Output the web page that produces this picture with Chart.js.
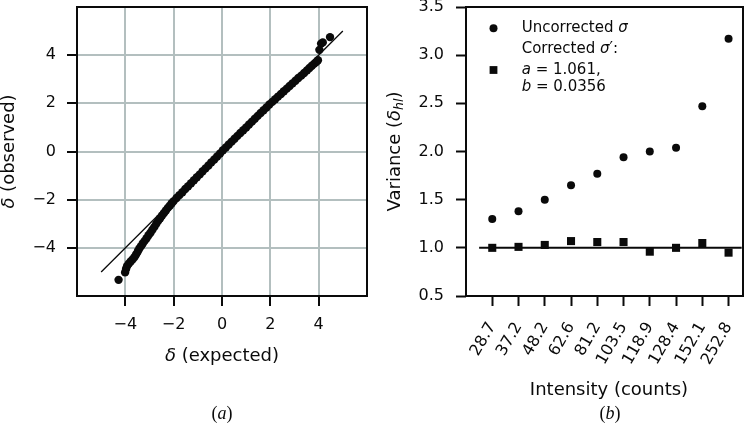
<!DOCTYPE html>
<html><head><meta charset="utf-8">
<script src="https://cdn.jsdelivr.net/npm/chart.js@4.4.1/dist/chart.umd.min.js"></script>
<style>
html,body{margin:0;padding:0;background:#fff;}
#wrap{position:relative;width:756px;height:424px;overflow:hidden;background:#fff;}
canvas{position:absolute;top:0;}
#ca{left:0;} #cb{left:380px;}
</style></head><body>
<div id="wrap"><canvas id="ca" width="380" height="424"></canvas><canvas id="cb" width="376" height="424"></canvas></div>
<script>
// ---------- data: panel (a) normal probability plot ----------
const qqExpected = [-4.28,-4.01,-3.97,-3.93,-3.86,-3.78,-3.70,-3.62,-3.55,-3.48,-3.42,-3.35,-3.28,-3.20,-3.12,-3.04,-2.96,-2.88,-2.80,-2.72,-2.64,-2.56,-2.48,-2.40,-2.32,-2.24,-2.16,-2.08,-2.00,-1.88,-1.76,-1.64,-1.52,-1.40,-1.28,-1.16,-1.04,-0.92,-0.80,-0.68,-0.56,-0.44,-0.32,-0.20,-0.08,0.04,0.16,0.28,0.40,0.52,0.64,0.76,0.88,1.00,1.12,1.24,1.36,1.48,1.60,1.72,1.84,1.96,2.08,2.20,2.32,2.44,2.56,2.68,2.80,2.92,3.04,3.16,3.28,3.40,3.52,3.62,3.72,3.82,3.90,3.97,4.03,4.10,4.17,4.47];
const qqObserved = [-5.33,-5.02,-4.88,-4.76,-4.66,-4.57,-4.48,-4.38,-4.27,-4.14,-4.03,-3.93,-3.82,-3.71,-3.60,-3.48,-3.37,-3.25,-3.13,-3.00,-2.88,-2.77,-2.66,-2.55,-2.45,-2.34,-2.25,-2.15,-2.06,-1.93,-1.81,-1.69,-1.56,-1.44,-1.32,-1.19,-1.07,-0.95,-0.82,-0.70,-0.58,-0.45,-0.33,-0.21,-0.08,0.05,0.17,0.29,0.41,0.53,0.65,0.77,0.88,1.00,1.12,1.24,1.36,1.48,1.60,1.71,1.83,1.95,2.06,2.17,2.28,2.39,2.50,2.61,2.72,2.83,2.94,3.05,3.15,3.26,3.37,3.47,3.56,3.65,3.72,3.79,4.22,4.48,4.53,4.75];
const idealLineX = [-5, 5];
const idealLineY = [-5, 5];
const qqTicks = [-4, -2, 0, 2, 4];
const qqRange = [-6, 6];

// ---------- data: panel (b) variance per intensity bin ----------
const intensityLabels = ['28.7','37.2','48.2','62.6','81.2','103.5','118.9','128.4','152.1','252.8'];
const uncorrectedVar = [1.30,1.38,1.50,1.65,1.77,1.94,2.00,2.04,2.47,3.17];
const correctedVar   = [1.00,1.01,1.03,1.07,1.06,1.06,0.96,1.00,1.05,0.95];
const unityLineX = [-0.5, 9.5];
const unityLineY = [1.0, 1.0];
const varTicks = [0.5,1.0,1.5,2.0,2.5,3.0,3.5];

const INK = '#0a0a0a';
const GRID = '#b3bfbf';
const FAM = '"DejaVu Sans"';
const fnt = (sz, st) => (st ? st + ' ' : '') + sz + 'px ' + FAM;
const TICK = 16, TITLE = 18, LEG = 15;

function drawRuns(ctx, parts, cx, cy, rot, align) {
  ctx.save();
  ctx.translate(cx, cy);
  ctx.rotate(rot || 0);
  let w = 0;
  parts.forEach(p => { ctx.font = p.f; p.w = ctx.measureText(p.t).width; w += p.w; });
  let x = align === 'left' ? 0 : -w / 2;
  ctx.textBaseline = 'middle';
  ctx.textAlign = 'left';
  ctx.fillStyle = INK;
  parts.forEach(p => { ctx.font = p.f; ctx.fillText(p.t, x, p.dy || 0); x += p.w; });
  ctx.restore();
}

function frame(chart) {
  const {ctx, chartArea: a} = chart;
  ctx.save();
  ctx.strokeStyle = INK;
  ctx.lineWidth = 2;
  ctx.strokeRect(a.left, a.top, a.right - a.left, a.bottom - a.top);
  ctx.restore();
}

Chart.defaults.color = INK;
Chart.defaults.font.family = FAM;
Chart.defaults.font.size = TICK;

const fmtMinus = v => (v < 0 ? '\u2212' : '') + Math.abs(v);
const serif = (s, st) => (st ? st + ' ' : '') + s + 'px "Liberation Serif"';
const noPad = s => { s.paddingLeft = 0; s.paddingRight = 0; s.paddingTop = 0; s.paddingBottom = 0; };

// ---------- Chart A ----------
const decorA = {
  id: 'decorA',
  afterDraw(chart) {
    frame(chart);
    const ctx = chart.ctx;
    drawRuns(ctx, [{t:'\u03b4', f:fnt(TITLE,'italic')}, {t:' (expected)', f:fnt(TITLE)}], 222, 356, 0);
    drawRuns(ctx, [{t:'\u03b4', f:fnt(TITLE,'italic')}, {t:' (observed)', f:fnt(TITLE)}], 9, 151.5, -Math.PI/2);
    drawRuns(ctx, [{t:'(', f:serif(18)}, {t:'a', f:serif(18,'italic')}, {t:')', f:serif(18)}], 222, 414, 0);
  }
};

new Chart(document.getElementById('ca'), {
  type: 'scatter',
  data: {
    datasets: [
      {
        data: idealLineX.map((x, i) => ({x, y: idealLineY[i]})),
        showLine: true, borderColor: INK, borderWidth: 1.3, pointRadius: 0
      },
      {
        data: qqExpected.map((x, i) => ({x, y: qqObserved[i]})),
        pointRadius: 4.2, pointBackgroundColor: INK, pointBorderWidth: 0, showLine: false
      }
    ]
  },
  options: {
    responsive: false, animation: false, devicePixelRatio: 1, events: [],
    layout: {padding: {left: 0, right: 13, top: 7, bottom: 88}},
    plugins: {legend: {display: false}, tooltip: {enabled: false}},
    scales: {
      x: {
        type: 'linear', min: qqRange[0], max: qqRange[1],
        afterBuildTicks: s => { s.ticks = qqTicks.map(v => ({value: v})); },
        afterFit: s => { s.height = 40; noPad(s); },
        border: {display: false},
        grid: {color: GRID, lineWidth: 2, tickLength: 10, tickColor: INK, tickWidth: 2},
        ticks: {padding: 9, callback: v => fmtMinus(v), maxRotation: 0, font: {size: TICK}}
      },
      y: {
        type: 'linear', min: qqRange[0], max: qqRange[1],
        afterBuildTicks: s => { s.ticks = qqTicks.map(v => ({value: v})); },
        afterFit: s => { s.width = 77; noPad(s); },
        border: {display: false},
        grid: {color: GRID, lineWidth: 2, tickLength: 10, tickColor: INK, tickWidth: 2},
        ticks: {padding: 11, callback: v => fmtMinus(v), font: {size: TICK}}
      }
    }
  },
  plugins: [decorA]
});

// ---------- Chart B ----------
const decorB = {
  id: 'decorB',
  afterDraw(chart) {
    frame(chart);
    const ctx = chart.ctx;
    const a = chart.chartArea;
    drawRuns(ctx, [{t:'Intensity (counts)', f:fnt(TITLE)}], 229, 390, 0);
    drawRuns(ctx, [
      {t:'Variance (', f:fnt(TITLE)},
      {t:'\u03b4', f:fnt(TITLE,'italic')},
      {t:'hl', f:fnt(12.5,'italic'), dy: 4.5},
      {t:')', f:fnt(TITLE)}
    ], 15, (a.top + a.bottom) / 2, -Math.PI/2);
    drawRuns(ctx, [{t:'(', f:serif(18)}, {t:'b', f:serif(18,'italic')}, {t:')', f:serif(18)}], 230, 414, 0);
    // legend
    ctx.save();
    ctx.fillStyle = INK;
    ctx.beginPath(); ctx.arc(113.5, 28.3, 4, 0, Math.PI * 2); ctx.fill();
    ctx.fillRect(113.5 - 3.9, 70 - 3.9, 7.8, 7.8);
    ctx.restore();
    drawRuns(ctx, [{t:'Uncorrected ', f:fnt(LEG)}, {t:'\u03c3', f:fnt(LEG,'italic')}], 141.7, 28.3, 0, 'left');
    drawRuns(ctx, [{t:'Corrected ', f:fnt(LEG)}, {t:'\u03c3', f:fnt(LEG,'italic')}, {t:'\u2032:', f:fnt(LEG)}], 141.7, 49.5, 0, 'left');
    drawRuns(ctx, [{t:'a', f:fnt(LEG,'italic')}, {t:' = 1.061,', f:fnt(LEG)}], 141.7, 70, 0, 'left');
    drawRuns(ctx, [{t:'b', f:fnt(LEG,'italic')}, {t:' = 0.0356', f:fnt(LEG)}], 141.7, 87, 0, 'left');
  }
};

new Chart(document.getElementById('cb'), {
  type: 'scatter',
  data: {
    datasets: [
      {
        data: uncorrectedVar.map((v, i) => ({x: i, y: v})),
        pointStyle: 'circle', pointRadius: 4, pointBackgroundColor: INK, pointBorderWidth: 0
      },
      {
        data: correctedVar.map((v, i) => ({x: i, y: v})),
        pointStyle: 'rect', pointRadius: 5.7, pointBackgroundColor: INK, pointBorderWidth: 0
      },
      {
        data: unityLineX.map((x, i) => ({x, y: unityLineY[i]})),
        showLine: true, borderColor: INK, borderWidth: 2, pointRadius: 0
      }
    ]
  },
  options: {
    responsive: false, animation: false, devicePixelRatio: 1, events: [],
    layout: {padding: {left: 0, right: 13, top: 7, bottom: 58}},
    plugins: {legend: {display: false}, tooltip: {enabled: false}},
    scales: {
      x: {
        type: 'linear', min: -1, max: 9.55,
        afterBuildTicks: s => { s.ticks = intensityLabels.map((_, i) => ({value: i})); },
        afterFit: s => { s.height = 70; noPad(s); },
        border: {display: false},
        grid: {drawOnChartArea: false, tickLength: 10, tickColor: INK, tickWidth: 2},
        ticks: {padding: 13, autoSkip: false, minRotation: 60, maxRotation: 60,
                callback: (v, i) => intensityLabels[i], font: {size: TICK}}
      },
      y: {
        type: 'linear', min: 0.5, max: 3.5,
        afterBuildTicks: s => { s.ticks = varTicks.map(v => ({value: v})); },
        afterFit: s => { s.width = 86; noPad(s); },
        border: {display: false},
        grid: {drawOnChartArea: false, tickLength: 10, tickColor: INK, tickWidth: 2},
        ticks: {padding: 12, callback: v => v.toFixed(1), font: {size: TICK}}
      }
    }
  },
  plugins: [decorB]
});
</script>
</body></html>
